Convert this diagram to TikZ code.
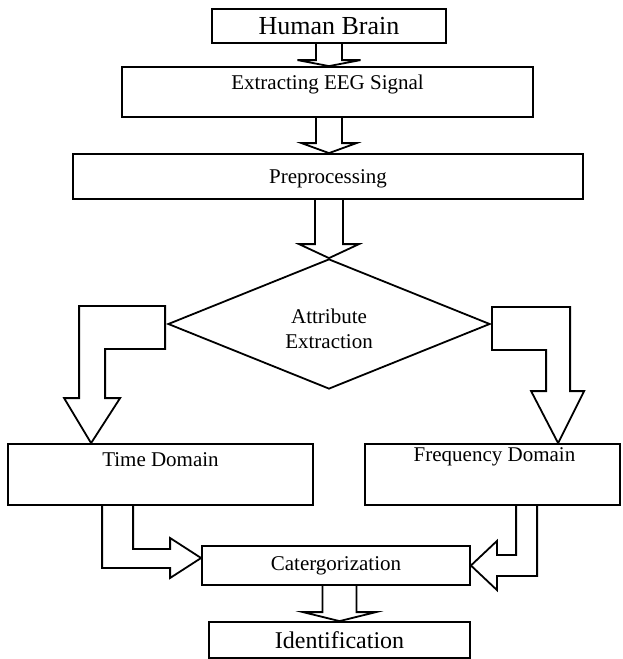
\documentclass[tikz,border=0pt]{standalone}
\usepackage{fontspec}
\setmainfont{Liberation Serif}
\usepackage{xcolor}
\usetikzlibrary{positioning, shapes.geometric, calc}
\definecolor{FlowInk}{HTML}{000000}
% straight block arrow pointing down: source, tip, half shaft, half head, head length
\newcommand{\downblock}[5]{%
  \draw[blockarrow] ($(#1)+(-#3,0)$) -- ($(#2)+(-#3,-#5)$) -- ($(#2)+(-#4,-#5)$)
    -- (#2) -- ($(#2)+(#4,-#5)$) -- ($(#2)+(#3,-#5)$) -- ($(#1)+(#3,0)$);
}

\begin{document}
\begin{tikzpicture}[
    x=0.5pt, y=-0.5pt,
    font=\fontsize{10.5}{12.6}\selectfont,
    stage/.style={
      draw=FlowInk,
      line width=0.9pt,
      inner sep=0pt,
    },
    decide/.style={
      diamond,
      draw=FlowInk,
      line width=0.9pt,
      inner sep=0pt,
      minimum width=161pt,
      minimum height=65pt,
    },
    blockarrow/.style={
      draw=FlowInk,
      line width=0.9pt,
      line join=miter,
    },
  ]
    \fill[white] (0,0) rectangle (622,659);
    \useasboundingbox (0,0) rectangle (622,659);

    \node[stage, minimum width=117pt, minimum height=17pt,
      font=\fontsize{13}{15}\selectfont] (brain) at (329,26) {Human Brain};
    \node[stage, minimum width=205.5pt, minimum height=25pt] (eeg) at (327.5,92) {};
    \node (eegtext) at ([yshift=-9pt]eeg.north) {Extracting EEG Signal};
    \node[stage, minimum width=255pt, minimum height=22.5pt] (pre) at (328,176.5) {};
    \node (pretext) at ([yshift=-1pt]pre.center) {Preprocessing};
    \node[decide] (attr) at (329,324) {};
    \node[align=center] (attrtext) at ([yshift=-2.5pt]attr.center) {Attribute\\Extraction};

    \node[stage, minimum width=152.5pt, minimum height=30.5pt] (time) at (160.5,474.5) {};
    \node (timetext) at ([yshift=-8.5pt]time.north) {Time Domain};
    \node[stage, minimum width=127.5pt, minimum height=30.5pt] (freq) at (492.5,474.5) {};
    \node (freqtext) at ([xshift=1pt,yshift=-7pt]freq.north) {Frequency Domain};

    \node[stage, minimum width=134pt, minimum height=19.5pt] (cat) at (336,565.5) {Catergorization};
    \node[stage, minimum width=130.5pt, minimum height=18pt,
      font=\fontsize{12}{14}\selectfont] (ident) at (339.5,640) {Identification};

    % straight arrows
    \coordinate (t1) at (brain.south |- eeg.north);
    \downblock{brain.south}{t1}{13}{31.5}{6}
    \coordinate (t2) at (brain.south |- pre.north);
    \downblock{t2 |- eeg.south}{t2}{13}{27.5}{10}
    \coordinate (t3) at (attr.north);
    \downblock{t3 |- pre.south}{t3}{14}{30}{14}
    \coordinate (t4) at (ident.north);
    \downblock{t4 |- cat.south}{t4}{17}{36.5}{9}

    % elbow arrows out of the diamond
    \coordinate (tl) at ([xshift=42pt]time.north west);
    \draw[blockarrow]
      let \p1=($(attr.west)+(-2,-18)$), \p2=($(attr.west)+(-2,25)$),
          \p3=($(tl)+(-12,-45)$), \p4=($(tl)+(14,-45)$) in
      (\p1) -- (\x3,\y1) -- (\p3) -- ($(tl)+(-27,-45)$) -- (tl)
      -- ($(tl)+(29,-45)$) -- (\p4) -- (\x4,\y2) -- (\p2) -- cycle;

    \coordinate (tr) at ([xshift=97pt]freq.north west);
    \draw[blockarrow]
      let \p1=($(attr.east)+(1,-17)$), \p2=($(attr.east)+(1,26)$),
          \p3=($(tr)+(12,-52)$), \p4=($(tr)+(-12,-52)$) in
      (\p1) -- (\x3,\y1) -- (\p3) -- ($(tr)+(26,-52)$) -- (tr)
      -- ($(tr)+(-27,-52)$) -- (\p4) -- (\x4,\y2) -- (\p2) -- cycle;

    % merging arrows into categorization
    \coordinate (cl) at ([yshift=3.75pt]cat.west);
    \draw[blockarrow]
      let \p1=($(time.south west)+(95,0)$), \p2=($(time.south west)+(126,0)$),
          \p3=($(cl)+(-31,10)$), \p4=($(cl)+(-31,-9)$) in
      (\p1) -- (\x1,\y3) -- (\p3) -- ($(cl)+(-31,20)$) -- (cl)
      -- ($(cl)+(-31,-20)$) -- (\p4) -- (\x2,\y4) -- (\p2);

    \coordinate (cr) at (cat.east);
    \draw[blockarrow]
      let \p1=($(freq.south west)+(173,0)$), \p2=($(freq.south west)+(152,0)$),
          \p3=($(cr)+(26,10.5)$), \p4=($(cr)+(26,-10.5)$) in
      (\p1) -- (\x1,\y3) -- (\p3) -- ($(cr)+(26,24.5)$) -- (cr)
      -- ($(cr)+(26,-24.5)$) -- (\p4) -- (\x2,\y4) -- (\p2);
  \end{tikzpicture}
\end{document}
